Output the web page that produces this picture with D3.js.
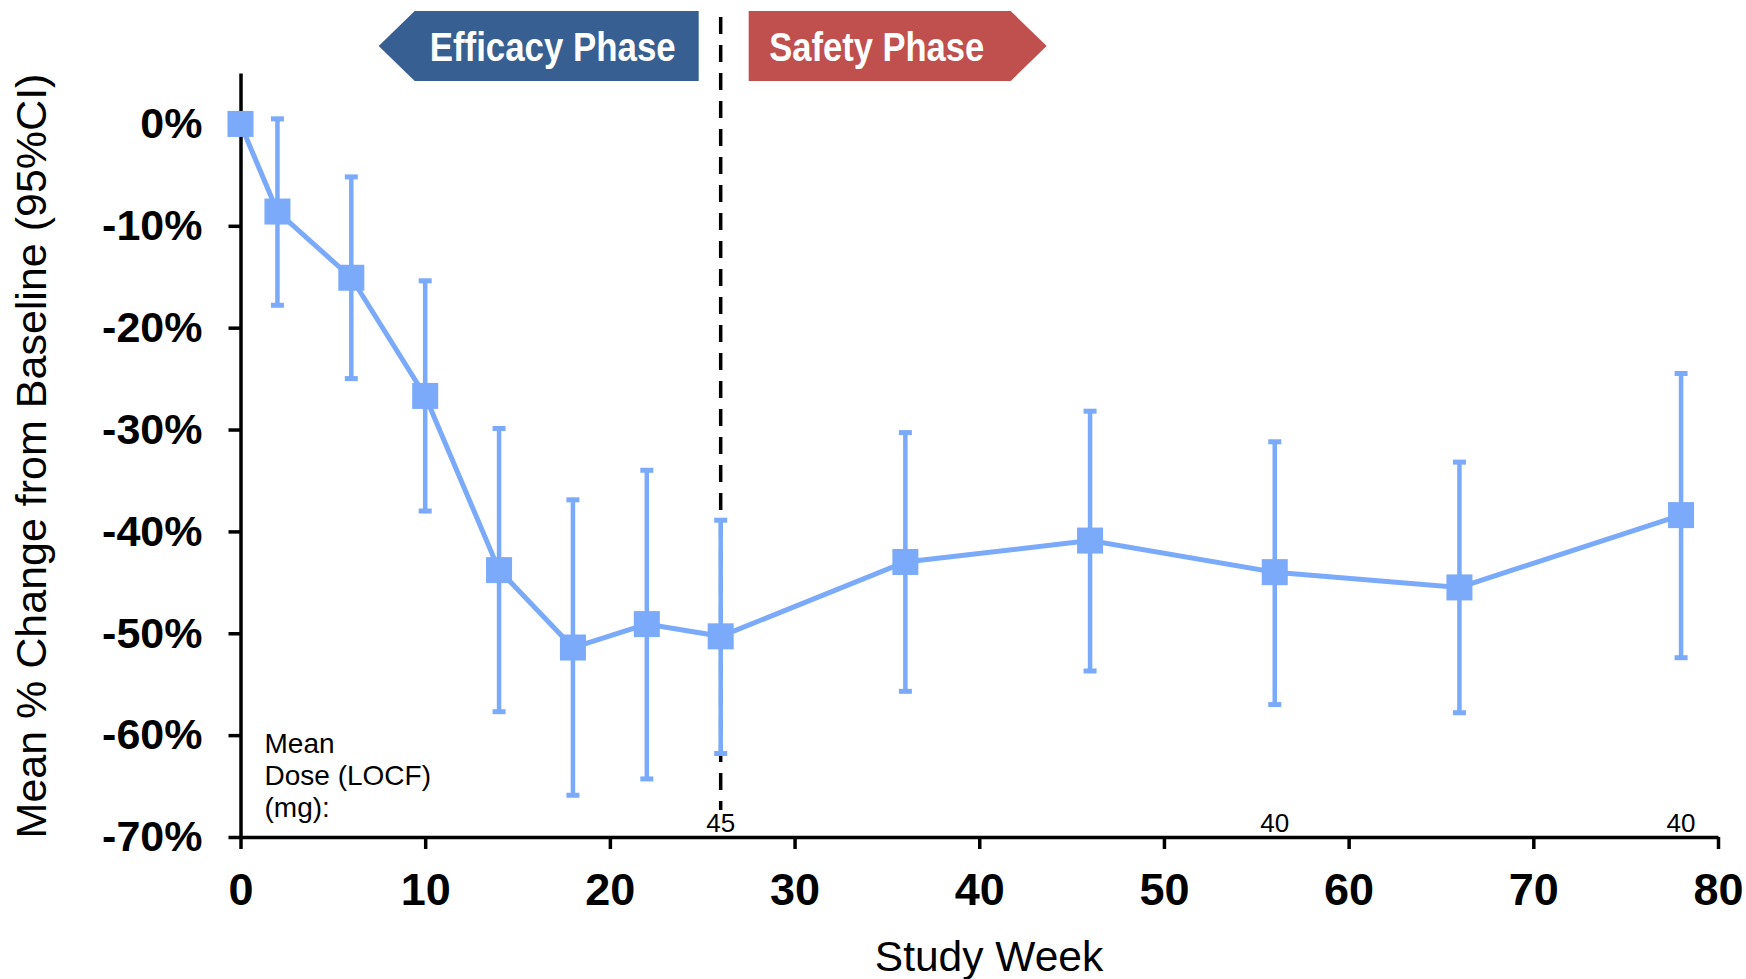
<!DOCTYPE html>
<html>
<head>
<meta charset="utf-8">
<script src="https://cdn.jsdelivr.net/npm/d3@7"></script>
<style>
  body { margin: 0; background: #fff; }
  text { font-family: Arial, "Liberation Sans", sans-serif; }
</style>
</head>
<body>
<script>
// data
var weeks = [0, 2, 6, 10, 14, 18, 22, 26, 36, 46, 56, 66, 78];
var meanChange = [0, -8.6, -15.1, -26.7, -43.8, -51.4, -49.1, -50.3, -43.0, -40.9, -44.0, -45.5, -38.4];
var ciUpper = [null, 0.5, -5.2, -15.4, -29.9, -36.9, -34.0, -38.9, -30.3, -28.2, -31.2, -33.2, -24.5];
var ciLower = [null, -17.8, -25.0, -38.0, -57.7, -65.9, -64.3, -61.8, -55.7, -53.7, -57.0, -57.8, -52.4];
var doseWeeks = [26, 56, 78];
var doseLabels = ["45", "40", "40"];
var xTicks = [0, 10, 20, 30, 40, 50, 60, 70, 80];
var yTicks = [0, -10, -20, -30, -40, -50, -60, -70];
var phaseSplit = 26;

var W = 1746, H = 979;
var margin = {top: 73, right: 28, bottom: 142, left: 240.5},
    width = W - margin.left - margin.right,
    height = H - margin.top - margin.bottom;

var blue = "#7aaaf9";

var x = d3.scaleLinear().domain([0, 80]).range([0, width]);
var y = d3.scaleLinear().domain([5, -70]).range([0, height]);

var svg = d3.select("body").append("svg")
    .attr("width", W)
    .attr("height", H);

var g = svg.append("g")
    .attr("transform", "translate(" + margin.left + "," + margin.top + ")");

var data = weeks.map(function(w, i) {
  return {week: w, mean: meanChange[i], hi: ciUpper[i], lo: ciLower[i]};
});

// axes first so the markers sit on top
var xAxis = g.append("g")
    .attr("transform", "translate(0," + height + ")")
    .call(d3.axisBottom(x).tickValues(xTicks).tickSize(12).tickSizeOuter(0).tickPadding(24));
var yAxis = g.append("g")
    .call(d3.axisLeft(y).tickValues(yTicks).tickSize(12).tickSizeOuter(0).tickPadding(26)
        .tickFormat(function(d) { return d + "%"; }));

[xAxis, yAxis].forEach(function(ax) {
  ax.selectAll("path, line").attr("stroke", "#000").attr("stroke-width", 3.5);
  ax.selectAll("text")
      .attr("fill", "#000")
      .attr("font-weight", "bold")
      .attr("font-family", "Arial, 'Liberation Sans', sans-serif");
});
xAxis.selectAll("text").attr("font-size", 45);
yAxis.selectAll("text").attr("font-size", 43);

// dashed divider between phases
g.append("line")
    .attr("x1", x(phaseSplit)).attr("x2", x(phaseSplit))
    .attr("y1", 17 - margin.top).attr("y2", height - 27)
    .attr("stroke", "#000")
    .attr("stroke-width", 3.5)
    .attr("stroke-dasharray", "17,11");

// phase banners
var bTop = 11 - margin.top, bBot = 81 - margin.top, bMid = (bTop + bBot) / 2;
var effR = x(phaseSplit) - 22, effL = effR - 284;
g.append("path")
    .attr("d", "M" + (effL - 36) + "," + bMid + "L" + effL + "," + bTop + "L" + effR + "," + bTop +
               "L" + effR + "," + bBot + "L" + effL + "," + bBot + "Z")
    .attr("fill", "#375f92");
g.append("text")
    .attr("x", (effL + effR) / 2 - 4).attr("y", bMid + 15)
    .attr("text-anchor", "middle")
    .attr("fill", "#fff")
    .attr("font-weight", "bold")
    .attr("font-size", 41)
    .attr("textLength", 246).attr("lengthAdjust", "spacingAndGlyphs")
    .text("Efficacy Phase");

var safL = x(phaseSplit) + 28, safR = safL + 262;
g.append("path")
    .attr("d", "M" + safL + "," + bTop + "L" + safR + "," + bTop + "L" + (safR + 36) + "," + bMid +
               "L" + safR + "," + bBot + "L" + safL + "," + bBot + "Z")
    .attr("fill", "#c0504d");
g.append("text")
    .attr("x", (safL + safR) / 2 - 3).attr("y", bMid + 15)
    .attr("text-anchor", "middle")
    .attr("fill", "#fff")
    .attr("font-weight", "bold")
    .attr("font-size", 41)
    .attr("textLength", 215).attr("lengthAdjust", "spacingAndGlyphs")
    .text("Safety Phase");

// error bars
var eb = g.selectAll(".err")
    .data(data.filter(function(d) { return d.hi !== null; }))
  .enter().append("g")
    .attr("class", "err");
eb.append("line")
    .attr("x1", function(d) { return x(d.week); })
    .attr("x2", function(d) { return x(d.week); })
    .attr("y1", function(d) { return y(d.hi); })
    .attr("y2", function(d) { return y(d.lo); })
    .attr("stroke", blue).attr("stroke-width", 4.5);
["hi", "lo"].forEach(function(k) {
  eb.append("line")
      .attr("x1", function(d) { return x(d.week) - 6.5; })
      .attr("x2", function(d) { return x(d.week) + 6.5; })
      .attr("y1", function(d) { return y(d[k]); })
      .attr("y2", function(d) { return y(d[k]); })
      .attr("stroke", blue).attr("stroke-width", 5);
});

// mean line
g.append("path")
    .datum(data)
    .attr("fill", "none")
    .attr("stroke", blue)
    .attr("stroke-width", 5)
    .attr("d", d3.line()
        .x(function(d) { return x(d.week); })
        .y(function(d) { return y(d.mean); }));

// square markers
var ms = 26;
g.selectAll(".pt")
    .data(data)
  .enter().append("rect")
    .attr("class", "pt")
    .attr("x", function(d) { return x(d.week) - ms / 2; })
    .attr("y", function(d) { return y(d.mean) - ms / 2; })
    .attr("width", ms).attr("height", ms)
    .attr("fill", blue);

// dose labels
g.selectAll(".dose")
    .data(doseWeeks)
  .enter().append("text")
    .attr("class", "dose")
    .attr("x", function(d) { return x(d); })
    .attr("y", height - 5)
    .attr("text-anchor", "middle")
    .attr("font-size", 26)
    .text(function(d, i) { return doseLabels[i]; });

var doseTitle = g.append("text")
    .attr("x", 24)
    .attr("font-size", 28);
["Mean", "Dose (LOCF)", "(mg):"].forEach(function(s, i) {
  doseTitle.append("tspan")
      .attr("x", 24)
      .attr("y", y(-60) + 18 + i * 32)
      .text(s);
});

// axis titles
svg.append("text")
    .attr("x", 989)
    .attr("y", 971)
    .attr("text-anchor", "middle")
    .attr("font-size", 42.5)
    .text("Study Week");

svg.append("text")
    .attr("transform", "translate(46," + 456 + ") rotate(-90)")
    .attr("text-anchor", "middle")
    .attr("font-size", 43)
    .text("Mean % Change from Baseline (95%CI)");
</script>
</body>
</html>
